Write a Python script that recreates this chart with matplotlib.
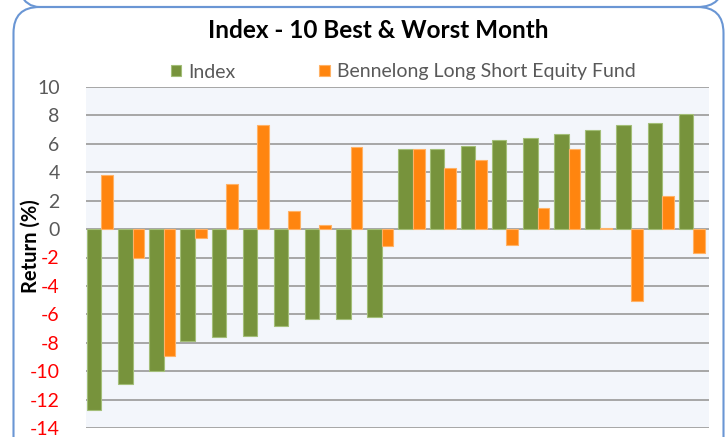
import matplotlib
matplotlib.use('Agg')
import matplotlib.pyplot as plt
import matplotlib.patches as mpatches
from matplotlib.transforms import IdentityTransform
import numpy as np

plt.rcParams['font.family'] = ['Lato', 'DejaVu Sans']

# 10 worst and 10 best months of the index, with fund return in the same month
index_returns = [-12.7, -10.9, -10.0, -7.9, -7.6, -7.5, -6.8, -6.3, -6.3, -6.2,
                 5.65, 5.65, 5.85, 6.3, 6.4, 6.7, 7.0, 7.35, 7.5, 8.1]
fund_returns = [3.8, -2.0, -8.9, -0.6, 3.2, 7.35, 1.25, 0.3, 5.75, -1.2,
                5.65, 4.3, 4.85, -1.1, 1.45, 5.65, 0.1, -5.05, 2.3, -1.65]
series_names = ['Index', 'Bennelong Long Short Equity Fund']
yticks = list(range(-14, 11, 2))

green = '#77933C'
orange = '#FF850F'
grey_text = '#595959'

fig = plt.figure(figsize=(7.26, 4.37), dpi=100)

# rounded panel borders (chart box + bottom of the box above)
border = '#6A96D4'
for y0, h in [(-30, 460), (430, 80)]:
    fig.add_artist(mpatches.FancyBboxPatch((13.5, y0), 710, h,
                                           boxstyle='round,pad=0,rounding_size=26',
                                           transform=IdentityTransform(), zorder=-1,
                                           facecolor='none', edgecolor=border, linewidth=1.5))

ax = fig.add_axes([86 / 726, 9 / 437, 623 / 726, 341 / 437])
ax.set_facecolor('#F3F6FB')

x = np.arange(len(index_returns))
b1 = ax.bar(x - 0.47, index_returns, width=0.465, align='edge', color=green,
            edgecolor='#A3BE78', linewidth=0.8, zorder=3, label=series_names[0])
b2 = ax.bar(x - 0.005, fund_returns, width=0.375, align='edge', color=orange,
            edgecolor='#FFB266', linewidth=0.8, zorder=3, label=series_names[1])

ax.set_xlim(-0.5, 19.5)
ax.set_ylim(-14, 10)
ax.set_yticks(yticks)
ax.set_yticklabels([str(t) for t in yticks], fontsize=14)
for lab, t in zip(ax.get_yticklabels(), yticks):
    lab.set_color('#FF0000' if t < 0 else grey_text)
ax.set_xticks([])
ax.tick_params(axis='y', length=0, pad=19)
ax.grid(axis='y', color='#A0A0A0', linewidth=1.3, zorder=1)
for s in ax.spines.values():
    s.set_visible(False)

fig.text(31 / 726, 1 - 246 / 437, 'Return (%)', rotation=90, fontsize=14.5,
         fontweight='bold', ha='center', va='center')
fig.text(378 / 726, 1 - 31 / 437, 'Index - 10 Best & Worst Month', fontsize=17.5,
         fontweight='bold', ha='center', va='center')

fig.legend(handles=[b1, b2], loc='center', bbox_to_anchor=(403 / 726, 1 - 72 / 437),
           ncol=2, frameon=False, fontsize=14, handlelength=0.55, handleheight=0.55,
           handletextpad=0.35, columnspacing=4.3, labelcolor=grey_text)

fig.savefig('out.png', dpi=100)
